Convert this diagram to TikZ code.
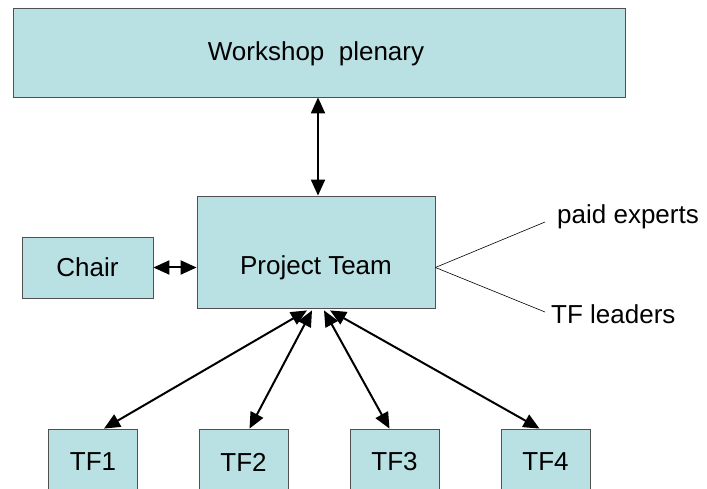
\documentclass[tikz,border=0pt]{standalone}
\usepackage{fontspec}
\setmainfont{Liberation Sans}
\usetikzlibrary{arrows.meta}
\definecolor{boxfill}{RGB}{185,224,227}
\definecolor{boxline}{RGB}{80,80,80}
\begin{document}
\begin{tikzpicture}[x=1pt,y=-1pt,
  txt/.style={font=\fontsize{26}{30}\selectfont},
  box/.style={draw=boxline,line width=0.8pt,fill=boxfill,inner sep=0pt,txt},
  dbl/.style={line width=2pt,{Triangle[length=16pt,width=14pt]}-{Triangle[length=16pt,width=14pt]}},
  thin/.style={line width=0.6pt},
  lbl/.style={txt,inner sep=0pt,anchor=west}]
\useasboundingbox (0,0) rectangle (707,489);
\clip (0,0) rectangle (707,489);
\node[box,minimum width=612pt,minimum height=89pt] (plen) at (319,52.5) {};
\node[box,minimum width=238pt,minimum height=112pt] (pt) at (316,252) {};
\node[box,minimum width=131pt,minimum height=61pt] (chair) at (87.5,267.5) {Chair};
\node[box,minimum width=89pt,minimum height=80pt] (tf1) at (93,469) {};
\node[box,minimum width=89pt,minimum height=80pt] (tf2) at (243.5,469) {};
\node[box,minimum width=89pt,minimum height=80pt] (tf3) at (394.5,469) {};
\node[box,minimum width=89pt,minimum height=80pt] (tf4) at (545.5,469) {};
\node[txt] (plent) at (316,54) {Workshop\ \ plenary};
\node[txt] (ptt) at (316,267.5) {Project Team};
\node[txt] (t1) at (93,462) {TF1};
\node[txt] (t2) at (243.5,462) {TF2};
\node[txt] (t3) at (394.5,462) {TF3};
\node[txt] (t4) at (545.5,462) {TF4};
\node[lbl] (pe) at (557,217) {paid experts};
\node[lbl] (tl) at (551,314) {TF leaders};
\coordinate (pe0) at (545,222);
\coordinate (tl0) at (545,312);
\draw[dbl] ([xshift=2pt]pt.north |- plen.south) -- ([xshift=2pt]pt.north);
\draw[dbl] (chair.east) -- (pt.west |- chair.east);
\draw[dbl] ([xshift=-9pt,yshift=-2pt]pt.south) -- ([xshift=11pt]tf1.north);
\draw[dbl] ([xshift=-4pt,yshift=-2pt]pt.south) -- ([xshift=6pt]tf2.north);
\draw[dbl] ([xshift=8pt,yshift=-2pt]pt.south) -- ([xshift=-5pt]tf3.north);
\draw[dbl] ([xshift=14pt,yshift=-2pt]pt.south) -- ([xshift=-6pt]tf4.north);
\draw[thin] (pt.east |- chair.east) -- (pe0);
\draw[thin] (pt.east |- chair.east) -- (tl0);
\end{tikzpicture}
\end{document}
